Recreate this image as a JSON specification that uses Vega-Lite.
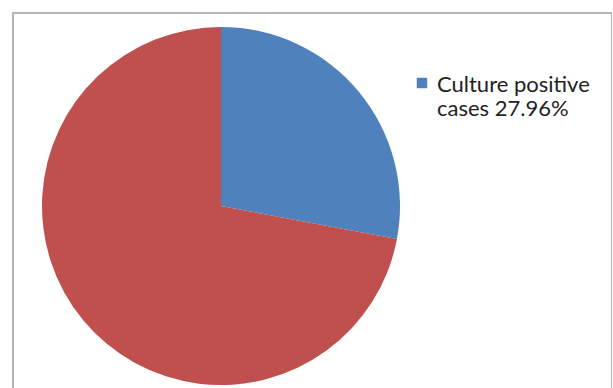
{
  "$schema": "https://vega.github.io/schema/vega-lite/v6.json",
  "width": 599,
  "height": 386,
  "autosize": {"type": "none"},
  "padding": {"left": 13, "top": 13, "right": 0, "bottom": 0},
  "background": "white",
  "view": {"stroke": "#B4B4B4", "strokeWidth": 2},
  "data": {
    "values": [
      {"category": "Culture positive cases 27.96%", "value": 27.96},
      {"category": "Culture negative cases 72.04%", "value": 72.04}
    ]
  },
  "mark": {"type": "arc", "radius": 179, "x": 208, "stroke": null},
  "encoding": {
    "theta": {"field": "value", "type": "quantitative", "stack": true},
    "order": {"field": "value", "sort": "ascending"},
    "color": {
      "field": "category",
      "type": "nominal",
      "scale": {
        "domain": ["Culture positive cases 27.96%", "Culture negative cases 72.04%"],
        "range": ["#4F81BD", "#C0504D"]
      },
      "legend": {
        "title": null,
        "orient": "none",
        "legendX": 398,
        "legendY": 68,
        "padding": 0,
        "values": ["Culture positive cases 27.96%"],
        "symbolType": "M-1,-2.72H1V-0.72H-1Z",
        "symbolSize": 110,
        "symbolStrokeWidth": 0,
        "symbolOpacity": 1,
        "labelFont": "Lato",
        "labelFontSize": 22,
        "labelColor": "#222222",
        "labelLimit": 300,
        "labelOffset": 4,
        "labelBaseline": "alphabetic",
        "labelLineHeight": 28,
        "labelExpr": "['Culture positive', 'cases 27.96%']"
      }
    }
  }
}
